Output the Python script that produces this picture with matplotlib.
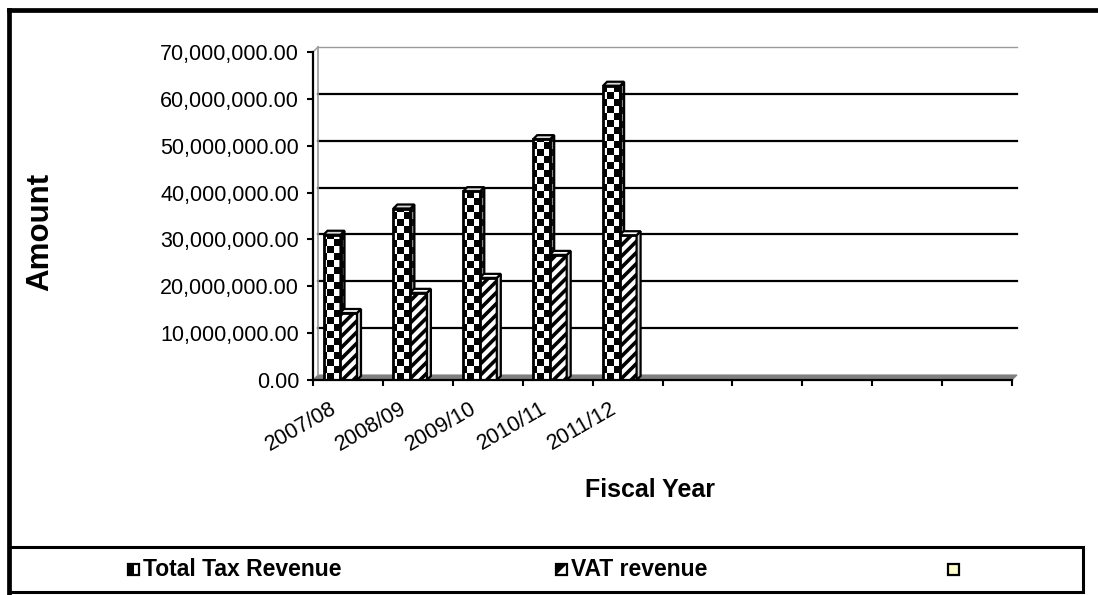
import numpy as np
import matplotlib
matplotlib.use("Agg")
import matplotlib.pyplot as plt
from matplotlib.patches import Rectangle, Polygon
from matplotlib.lines import Line2D
from matplotlib.ticker import FuncFormatter, MultipleLocator

# ---- data -------------------------------------------------------------
years = ["2007/08", "2008/09", "2009/10", "2010/11", "2011/12"]
total_tax = [31.0e6, 36.6e6, 40.3e6, 51.4e6, 62.8e6]
vat_revenue = [14.3e6, 18.6e6, 21.8e6, 26.7e6, 30.9e6]
n_slots = 10          # category slots on the axis (only the first five used)
y_max = 70e6
series_names = ["Total Tax Revenue", "VAT revenue", ""]

plt.rcParams["font.family"] = ["Liberation Sans", "DejaVu Sans"]
plt.rcParams["hatch.linewidth"] = 2.6

W, H = 1098, 595
fig = plt.figure(figsize=(W / 100, H / 100), dpi=100)
fig.patch.set_facecolor("white")


def fx(px):
    return px / W


def fy(py):
    return 1 - py / H


# plot area
ax_l, ax_t, ax_r, ax_b = 313, 52, 1012, 380
ax = fig.add_axes([fx(ax_l), fy(ax_b), (ax_r - ax_l) / W, (ax_b - ax_t) / H])
ax.set_xlim(0, n_slots)
ax.set_ylim(0, y_max)
ax.patch.set_visible(False)

px_x = n_slots / (ax_r - ax_l)      # data units per pixel (x)
px_y = y_max / (ax_b - ax_t)        # data units per pixel (y)

# ---- back wall and floor (pseudo 3-D) ----------------------------------
wall_d = 5
wdx, wdy = wall_d * px_x, wall_d * px_y
floor = Polygon([(0, 0), (n_slots, 0), (n_slots + wdx, wdy), (wdx, wdy)],
                closed=True, facecolor="#7f7f7f", edgecolor="#7f7f7f",
                lw=0.8, zorder=1, clip_on=False)
ax.add_patch(floor)
for v in np.arange(10e6, y_max, 10e6):
    ax.add_line(Line2D([wdx, n_slots + wdx], [v + wdy, v + wdy], color="black",
                       lw=1.6, zorder=1, clip_on=False))
ax.add_line(Line2D([wdx, n_slots + wdx], [y_max + wdy, y_max + wdy],
                   color="#9a9a9a", lw=1.0, zorder=1, clip_on=False))
ax.add_line(Line2D([wdx, wdx], [wdy, y_max + wdy], color="#9a9a9a", lw=1.2,
                   zorder=1, clip_on=False))
ax.add_line(Line2D([0, wdx], [y_max, y_max + wdy], color="#9a9a9a", lw=1.0,
                   zorder=1, clip_on=False))

# ---- checker texture --------------------------------------------------
cell = 7.0
cx, cy = cell * px_x, cell * px_y
nx = int(np.ceil((n_slots + 1) / cx))
ny = int(np.ceil((y_max * 1.1) / cy))
checker = (np.add.outer(np.arange(ny), np.arange(nx)) % 2).astype(float)
extent = (0, nx * cx, 0, ny * cy)

bar_w = 17 * px_x
bdx, bdy = 4 * px_x, 4 * px_y
tot_off = 10.5 * px_x
vat_off = 27 * px_x


def textured(clip, cmap, z):
    im = ax.imshow(checker, cmap=cmap, extent=extent, origin="lower",
                   aspect="auto", interpolation="nearest", zorder=z)
    im.set_clip_path(clip)
    return im


grey_side = matplotlib.colors.ListedColormap(["#111111", "#8a8a8a"])
bw_front = matplotlib.colors.ListedColormap(["#000000", "#ffffff"])

for i, (t, v) in enumerate(zip(total_tax, vat_revenue)):
    # Total Tax Revenue column
    x0 = i + tot_off
    x1 = x0 + bar_w
    z = 3
    bars = ax.bar(x0, t, width=bar_w, align="edge", facecolor="none",
                  edgecolor="black", lw=2.0, zorder=z + 0.2)
    textured(bars[0], bw_front, z)
    side = Polygon([(x1, 0), (x1, t), (x1 + bdx, t + bdy), (x1 + bdx, bdy)],
                   closed=True, facecolor="none", edgecolor="black", lw=1.6,
                   zorder=z + 0.2)
    ax.add_patch(side)
    textured(side, grey_side, z + 0.1)
    top = Polygon([(x0, t), (x1, t), (x1 + bdx, t + bdy), (x0 + bdx, t + bdy)],
                  closed=True, facecolor="#d9d9d9", edgecolor="black", lw=1.6,
                  zorder=z + 0.3)
    ax.add_patch(top)

    # VAT revenue column
    x0 = i + vat_off
    x1 = x0 + bar_w
    z = 4
    ax.bar(x0, v, width=bar_w, align="edge", facecolor="white",
           edgecolor="black", hatch="///", lw=2.0, zorder=z)
    side = Polygon([(x1, 0), (x1, v), (x1 + bdx, v + bdy), (x1 + bdx, bdy)],
                   closed=True, facecolor="#cfcfcf", edgecolor="black", lw=1.6,
                   zorder=z + 0.1)
    ax.add_patch(side)
    top = Polygon([(x0, v), (x1, v), (x1 + bdx, v + bdy), (x0 + bdx, v + bdy)],
                  closed=True, facecolor="white", edgecolor="black", lw=1.6,
                  zorder=z + 0.2)
    ax.add_patch(top)

ax.set_xlim(0, n_slots)
ax.set_ylim(0, y_max)

# ---- axes, ticks -------------------------------------------------------
for s in ("top", "right"):
    ax.spines[s].set_visible(False)
for s in ("left", "bottom"):
    ax.spines[s].set_linewidth(1.6)
    ax.spines[s].set_zorder(6)
ax.yaxis.set_major_locator(MultipleLocator(10e6))
ax.yaxis.set_major_formatter(FuncFormatter(lambda val, pos: f"{val:,.2f}"))
ax.tick_params(axis="y", direction="out", length=4, width=1.5, labelsize=15.5,
               pad=6)
ax.set_xticks(np.arange(n_slots + 1))
ax.set_xticklabels([])
ax.tick_params(axis="x", direction="out", length=4, width=1.5)

for i, lab in enumerate(years):
    ax.text(i + 0.5 - 18 * px_x, -18 * px_y, lab, rotation=30,
            rotation_mode="anchor", ha="right", va="top", fontsize=15.5,
            clip_on=False)

fig.text(fx(40), fy(232), "Amount", rotation=90, ha="center", va="center",
         fontsize=22.5, fontweight="bold")
fig.text(fx(650), fy(490), "Fiscal Year", ha="center", va="center",
         fontsize=18, fontweight="bold")

# ---- chart frame -------------------------------------------------------
fig.add_artist(Line2D([fx(9), fx(W)], [fy(10), fy(10)], color="black", lw=3.4,
                      solid_capstyle="projecting"))
fig.add_artist(Line2D([fx(9), fx(9)], [fy(10), fy(H)], color="black", lw=3.4,
                      solid_capstyle="projecting"))

# ---- legend ------------------------------------------------------------
fig.add_artist(Rectangle((fx(9), fy(592)), (1083 - 9) / W, (592 - 547) / H,
                         transform=fig.transFigure, facecolor="none",
                         edgecolor="black", lw=2.2))
leg_y = 569
icon = 11
icon_x = [128, 556, 948]
for k, (ix, name) in enumerate(zip(icon_x, series_names)):
    if k == 0:
        fig.add_artist(Rectangle((fx(ix), fy(leg_y + icon / 2)), icon / W,
                                 icon / H, transform=fig.transFigure,
                                 facecolor="white", edgecolor="black", lw=1.6))
        fig.add_artist(Rectangle((fx(ix), fy(leg_y + icon / 2)), icon / 2 / W,
                                 icon / H, transform=fig.transFigure,
                                 facecolor="black", edgecolor="none"))
    elif k == 1:
        fig.add_artist(Rectangle((fx(ix), fy(leg_y + icon / 2)), icon / W,
                                 icon / H, transform=fig.transFigure,
                                 facecolor="white", edgecolor="black", lw=1.6))
        fig.add_artist(Polygon([(fx(ix), fy(leg_y + icon / 2)),
                                (fx(ix), fy(leg_y - icon / 2)),
                                (fx(ix + icon), fy(leg_y - icon / 2))],
                               closed=True, transform=fig.transFigure,
                               facecolor="black", edgecolor="none"))
    else:
        fig.add_artist(Rectangle((fx(ix), fy(leg_y + icon / 2)), icon / W,
                                 icon / H, transform=fig.transFigure,
                                 facecolor="#ffffcc", edgecolor="black", lw=1.6))
    if name:
        fig.text(fx(ix + icon + 4), fy(leg_y), name, ha="left", va="center",
                 fontsize=16.5, fontweight="bold")

fig.savefig("out.png", dpi=100)
